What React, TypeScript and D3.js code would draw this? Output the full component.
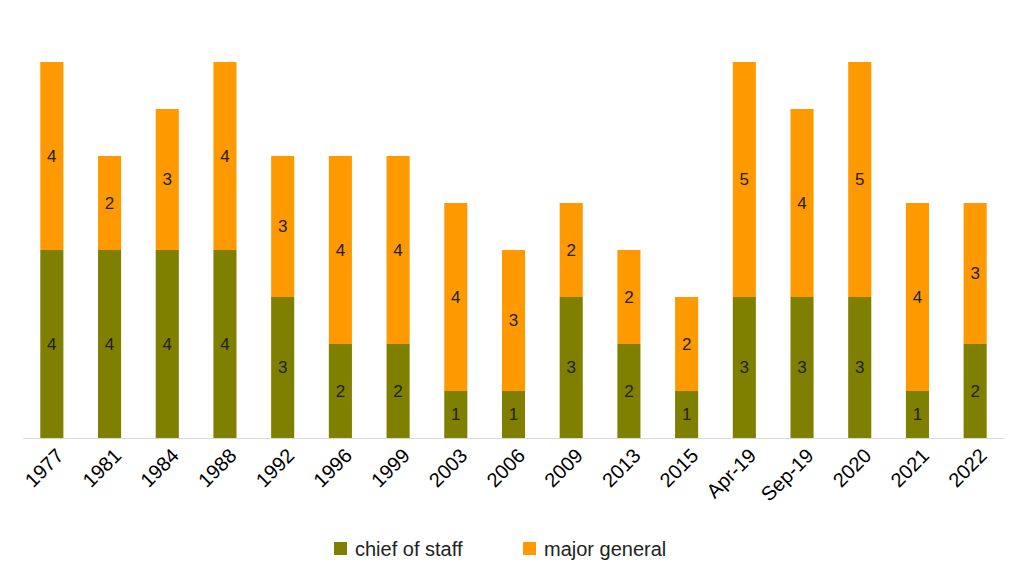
import React from 'react'
import * as d3 from 'd3'

const years = ['1977', '1981', '1984', '1988', '1992', '1996', '1999', '2003', '2006', '2009', '2013', '2015', 'Apr-19', 'Sep-19', '2020', '2021', '2022']
const chiefOfStaff = [4, 4, 4, 4, 3, 2, 2, 1, 1, 3, 2, 1, 3, 3, 3, 1, 2]
const majorGeneral = [4, 2, 3, 4, 3, 4, 4, 4, 3, 2, 2, 2, 5, 4, 5, 4, 3]

const GREEN = '#7f7f00'
const ORANGE = '#ff9900'
const W = 1019, H = 578

export default function App() {
  const x = d3.scaleBand<string>().domain(years).range([23, 1004]).paddingInner(0.6).paddingOuter(0.3)
  const y = d3.scaleLinear().domain([0, 8]).range([438, 62])
  const bw = x.bandwidth()
  const font = '"Liberation Sans", Arial, sans-serif'
  return (
    <svg width={W} height={H} style={{ position: 'absolute', left: 0, top: 0, background: '#fff' }} fontFamily={font}>
      {years.map((yr, i) => {
        const cx = x(yr)!
        const c = chiefOfStaff[i], m = majorGeneral[i]
        return (
          <g key={yr}>
            <rect x={cx} y={y(c)} width={bw} height={y(0) - y(c)} fill={GREEN} />
            <rect x={cx} y={y(c + m)} width={bw} height={y(c) - y(c + m)} fill={ORANGE} />
            <text x={cx + bw / 2} y={(y(0) + y(c)) / 2} dy="0.35em" textAnchor="middle" fontSize={17} fill="#222">{c}</text>
            <text x={cx + bw / 2} y={(y(c) + y(c + m)) / 2} dy="0.35em" textAnchor="middle" fontSize={17} fill="#222">{m}</text>
            <text transform={`translate(${cx + bw / 2 + 8},${452}) rotate(-45)`} textAnchor="end" dy="0.35em" fontSize={20} fill="#000">{yr}</text>
          </g>
        )
      })}
      <line x1={23} x2={1004} y1={438.5} y2={438.5} stroke="#d9d9d9" />
      <rect x={334} y={542} width={13} height={13} fill={GREEN} />
      <text x={355} y={549} dy="0.35em" fontSize={20} fill="#222">chief of staff</text>
      <rect x={523} y={542} width={13} height={13} fill={ORANGE} />
      <text x={544} y={549} dy="0.35em" fontSize={20} fill="#222">major general</text>
    </svg>
  )
}
